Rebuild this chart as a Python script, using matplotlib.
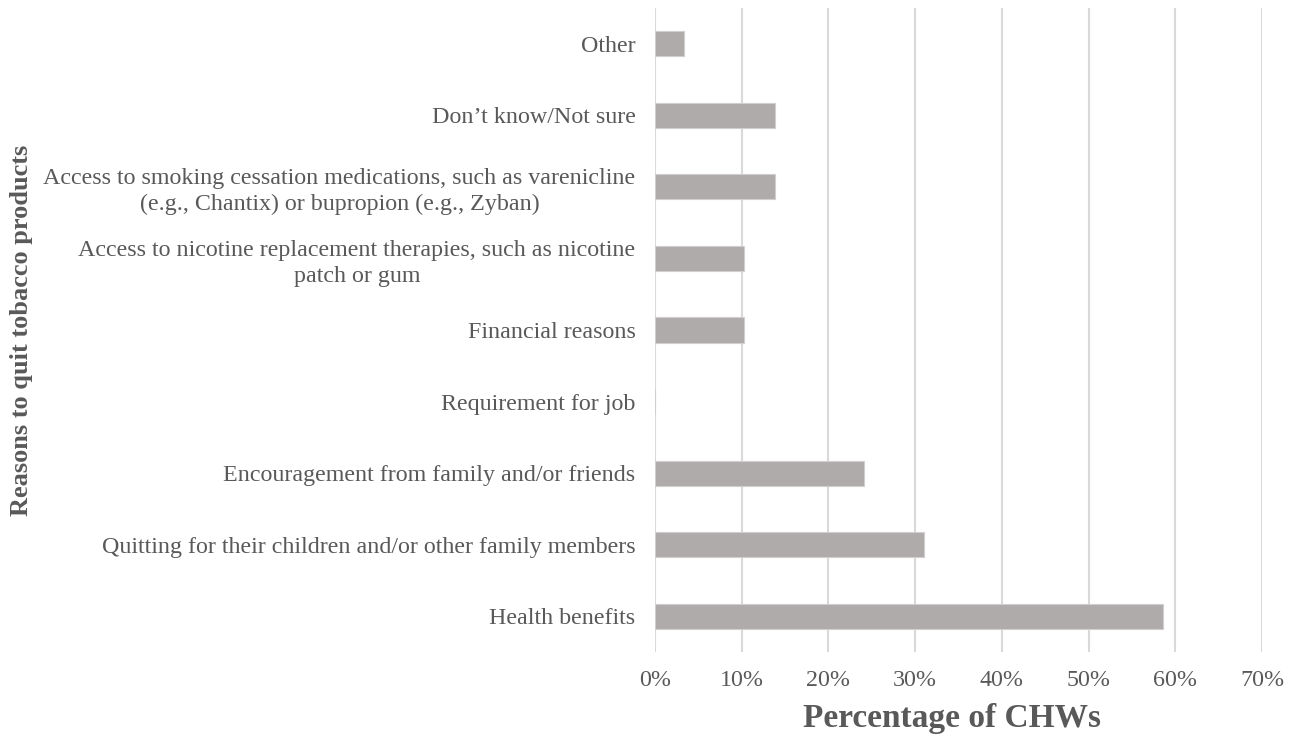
import matplotlib
matplotlib.use("Agg")
import matplotlib.pyplot as plt
from matplotlib.ticker import FuncFormatter

# Reasons, listed bottom to top
reasons = [
    "Health benefits",
    "Quitting for their children and/or other family members",
    "Encouragement from family and/or friends",
    "Requirement for job",
    "Financial reasons",
    "Access to nicotine replacement therapies, such as nicotine\npatch or gum",
    "Access to smoking cessation medications, such as varenicline\n(e.g., Chantix) or bupropion (e.g., Zyban)",
    "Don\u2019t know/Not sure",
    "Other",
]
percent = [58.6, 31.0, 24.1, 0.0, 10.3, 10.3, 13.8, 13.8, 3.4]
x_ticks = [0, 10, 20, 30, 40, 50, 60, 70]

text_color = "#595959"
bar_color = "#AFABAB"
grid_color = "#D9D9D9"

plt.rcParams["font.family"] = ["Liberation Serif", "DejaVu Serif"]

fig = plt.figure(figsize=(12.95, 7.38), dpi=100)
ax = fig.add_axes([655 / 1295, 1 - 652 / 738, (1262 - 655) / 1295, (652 - 8) / 738])

ypos = list(range(len(reasons)))
ax.barh(ypos, percent, height=0.35, color=bar_color, edgecolor="#D0CECE",
        linewidth=0.8, zorder=3)

ax.set_xlim(0, 70)
ax.set_ylim(-0.5, len(reasons) - 0.5)
ax.set_xticks(x_ticks)
ax.xaxis.set_major_formatter(FuncFormatter(lambda v, p: f"{v:.0f}%"))
ax.set_yticks(ypos)
ax.set_yticklabels(reasons)
for lbl in ax.get_yticklabels():
    lbl.set_multialignment("center")
    lbl.set_linespacing(1.29)

ax.grid(axis="x", color=grid_color, linewidth=1.5, zorder=0)
ax.grid(axis="y", visible=False)
for s in ax.spines.values():
    s.set_visible(False)

ax.tick_params(axis="y", length=0, pad=14, labelsize=17.3, labelcolor=text_color)
ax.tick_params(axis="x", length=0, pad=13, labelsize=17.3, labelcolor=text_color)

ax.set_xlabel("Percentage of CHWs", fontsize=24, fontweight="bold", color=text_color)
ax.xaxis.set_label_coords((952 - 655) / 607, (652 - 719) / 644, transform=ax.transAxes)
ax.xaxis.label.set_va("center")
ax.set_ylabel("Reasons to quit tobacco products", fontsize=19, fontweight="bold",
              color=text_color)
ax.yaxis.set_label_coords((21 - 655) / 607, (652 - 330) / 644)
ax.yaxis.label.set_va("center")

fig.savefig("out.png", dpi=100, facecolor="white")
